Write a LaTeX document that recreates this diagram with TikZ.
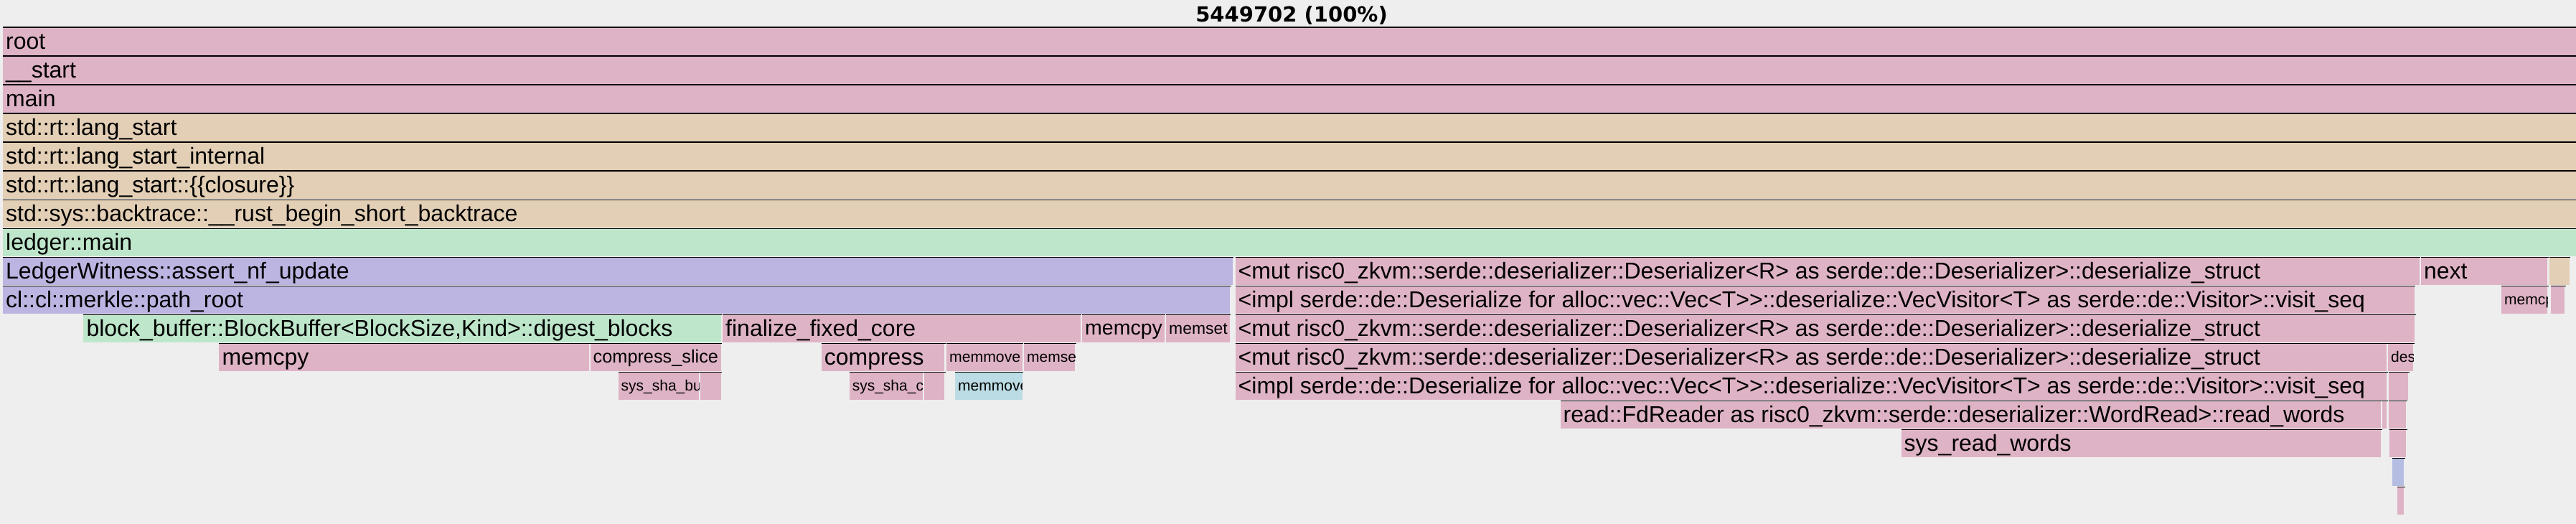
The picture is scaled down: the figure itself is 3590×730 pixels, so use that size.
\documentclass[tikz,border=0pt]{standalone}
\usepackage{fontspec}
\setmainfont{Liberation Sans}
\newfontfamily\titlefont{DejaVu Sans}
\definecolor{fgbg}{HTML}{EEEEEE}
\definecolor{fgpink}{HTML}{DFB3C6}
\definecolor{fgtan}{HTML}{E3CFB5}
\definecolor{fggreen}{HTML}{BEE6CB}
\definecolor{fgpurple}{HTML}{BCB4E1}
\definecolor{fgblue}{HTML}{BBDCE4}
\definecolor{fglav}{HTML}{B5BEE2}
\tikzset{
  fgline/.style={line width=1.5pt, draw=black},
  fglabel/.style={anchor=base west, inner sep=0pt, text=black}
}
\newcommand\fggt{>\kern0pt>}
% #1 name, #2 row, #3 x1, #4 x2, #5 colour, #6 font size, #7 text
\newcommand\fgbox[7]{%
  \pgfmathsetmacro\fgtop{37.5+40*#2}%
  \fill[#5] (#3,\fgtop) rectangle (#4,\fgtop+39.5);
  \draw[fgline] (#3,\fgtop+0.75) -- (#4+1.5,\fgtop+0.75);
  \begin{scope}
    \clip (#3,\fgtop) rectangle (#4,\fgtop+40);
    \node[fglabel, font=\fontsize{#6}{#6}\selectfont] (#1) at (#3+4,\fgtop+19.5+0.35*#6) {#7};
  \end{scope}}
% empty frame: #1 row, #2 x1, #3 x2, #4 colour
\newcommand\fgbar[4]{%
  \pgfmathsetmacro\fgtop{37.5+40*#1}%
  \fill[#4] (#2,\fgtop) rectangle (#3,\fgtop+39.5);
  \draw[fgline] (#2,\fgtop+0.75) -- (#3+1.5,\fgtop+0.75);}
\begin{document}
\begin{tikzpicture}[x=1pt,y=-1pt]
\useasboundingbox (0,0) rectangle (3590,730);
\fill[fgbg] (0,0) rectangle (3590,730);
\node[anchor=base, inner sep=0pt, font=\titlefont\bfseries\fontsize{29}{29}\selectfont] (title) at (1800,30.7) {5449702 (100\%)};
% full-width stack
\fgbox{r0}{0}{4}{3590}{fgpink}{32}{root}
\fgbox{r1}{1}{4}{3590}{fgpink}{32}{\_\_start}
\fgbox{r2}{2}{4}{3590}{fgpink}{32}{main}
\fgbox{r3}{3}{4}{3590}{fgtan}{32}{std::rt::lang\_start}
\fgbox{r4}{4}{4}{3590}{fgtan}{32}{std::rt::lang\_start\_internal}
\fgbox{r5}{5}{4}{3590}{fgtan}{32}{std::rt::lang\_start::\{\{closure\}\}}
\fgbox{r6}{6}{4}{3590}{fgtan}{32}{std::sys::backtrace::\_\_rust\_begin\_short\_backtrace}
\fgbox{r7}{7}{4}{3590}{fggreen}{32}{ledger::main}
% row 8
\fgbox{lw}{8}{4}{1717.7}{fgpurple}{32}{LedgerWitness::assert\_nf\_update}
\fgbox{da}{8}{1721.5}{3371.8}{fgpink}{32}{<mut risc0\_zkvm::serde::deserializer::Deserializer<R> as serde::de::Deserializer>::deserialize\_struct}
\fgbox{nx}{8}{3373.8}{3550}{fgpink}{32}{next}
\fgbar{8}{3552.6}{3580.7}{fgtan}
% row 9
\fgbox{pr}{9}{4}{1714}{fgpurple}{32}{cl::cl::merkle::path\_root}
\fgbox{va}{9}{1721.5}{3364.7}{fgpink}{32}{<impl serde::de::Deserialize for alloc::vec::Vec<T\fggt::deserialize::VecVisitor<T> as serde::de::Visitor>::visit\_seq}
\fgbox{mc}{9}{3486}{3550}{fgpink}{21}{memcp}
\fgbar{9}{3555}{3574}{fgpink}
% row 10
\fgbox{bb}{10}{116.3}{1004.6}{fggreen}{32}{block\_buffer::BlockBuffer<BlockSize,Kind>::digest\_blocks}
\fgbox{ff}{10}{1007}{1505.7}{fgpink}{32}{finalize\_fixed\_core}
\fgbox{mca}{10}{1508}{1622.8}{fgpink}{28.5}{memcpy}
\fgbox{msa}{10}{1625}{1713.8}{fgpink}{22.9}{memset}
\fgbox{db}{10}{1721.5}{3365}{fgpink}{32}{<mut risc0\_zkvm::serde::deserializer::Deserializer<R> as serde::de::Deserializer>::deserialize\_struct}
% row 11
\fgbox{mcb}{11}{305.3}{821}{fgpink}{32}{memcpy}
\fgbox{cs}{11}{822.5}{1004.6}{fgpink}{25.3}{compress\_slice}
\fgbox{cp}{11}{1144.6}{1316}{fgpink}{32}{compress}
\fgbox{mma}{11}{1319}{1424.6}{fgpink}{21.2}{memmove}
\fgbox{msb}{11}{1427}{1498}{fgpink}{21}{memse}
\fgbox{dc}{11}{1721.5}{3326}{fgpink}{32}{<mut risc0\_zkvm::serde::deserializer::Deserializer<R> as serde::de::Deserializer>::deserialize\_struct}
\fgbox{ds}{11}{3328}{3363}{fgpink}{21}{des}
% row 12
\fgbox{sb}{12}{861.5}{974}{fgpink}{21}{sys\_sha\_bu}
\fgbar{12}{975.5}{1004.6}{fgpink}
\fgbox{sc}{12}{1183.6}{1286}{fgpink}{21}{sys\_sha\_c}
\fgbar{12}{1287.7}{1316}{fgpink}
\fgbox{mmb}{12}{1331}{1424.6}{fgblue}{21}{memmove}
\fgbox{vb}{12}{1721.5}{3326}{fgpink}{32}{<impl serde::de::Deserialize for alloc::vec::Vec<T\fggt::deserialize::VecVisitor<T> as serde::de::Visitor>::visit\_seq}
\fgbar{12}{3329}{3356}{fgpink}
% row 13
\fgbox{rw}{13}{2174.5}{3318}{fgpink}{32}{read::FdReader as risc0\_zkvm::serde::deserializer::WordRead>::read\_words}
\fgbar{13}{3320}{3326}{fgpink}
\fgbar{13}{3329}{3353}{fgpink}
% row 14
\fgbox{sr}{14}{2649.5}{3318}{fgpink}{32}{sys\_read\_words}
\fgbar{14}{3330}{3353}{fgpink}
% rows 15-16
\fgbar{15}{3334}{3350}{fglav}
\fgbar{16}{3341}{3350}{fgpink}
\end{tikzpicture}
\end{document}
